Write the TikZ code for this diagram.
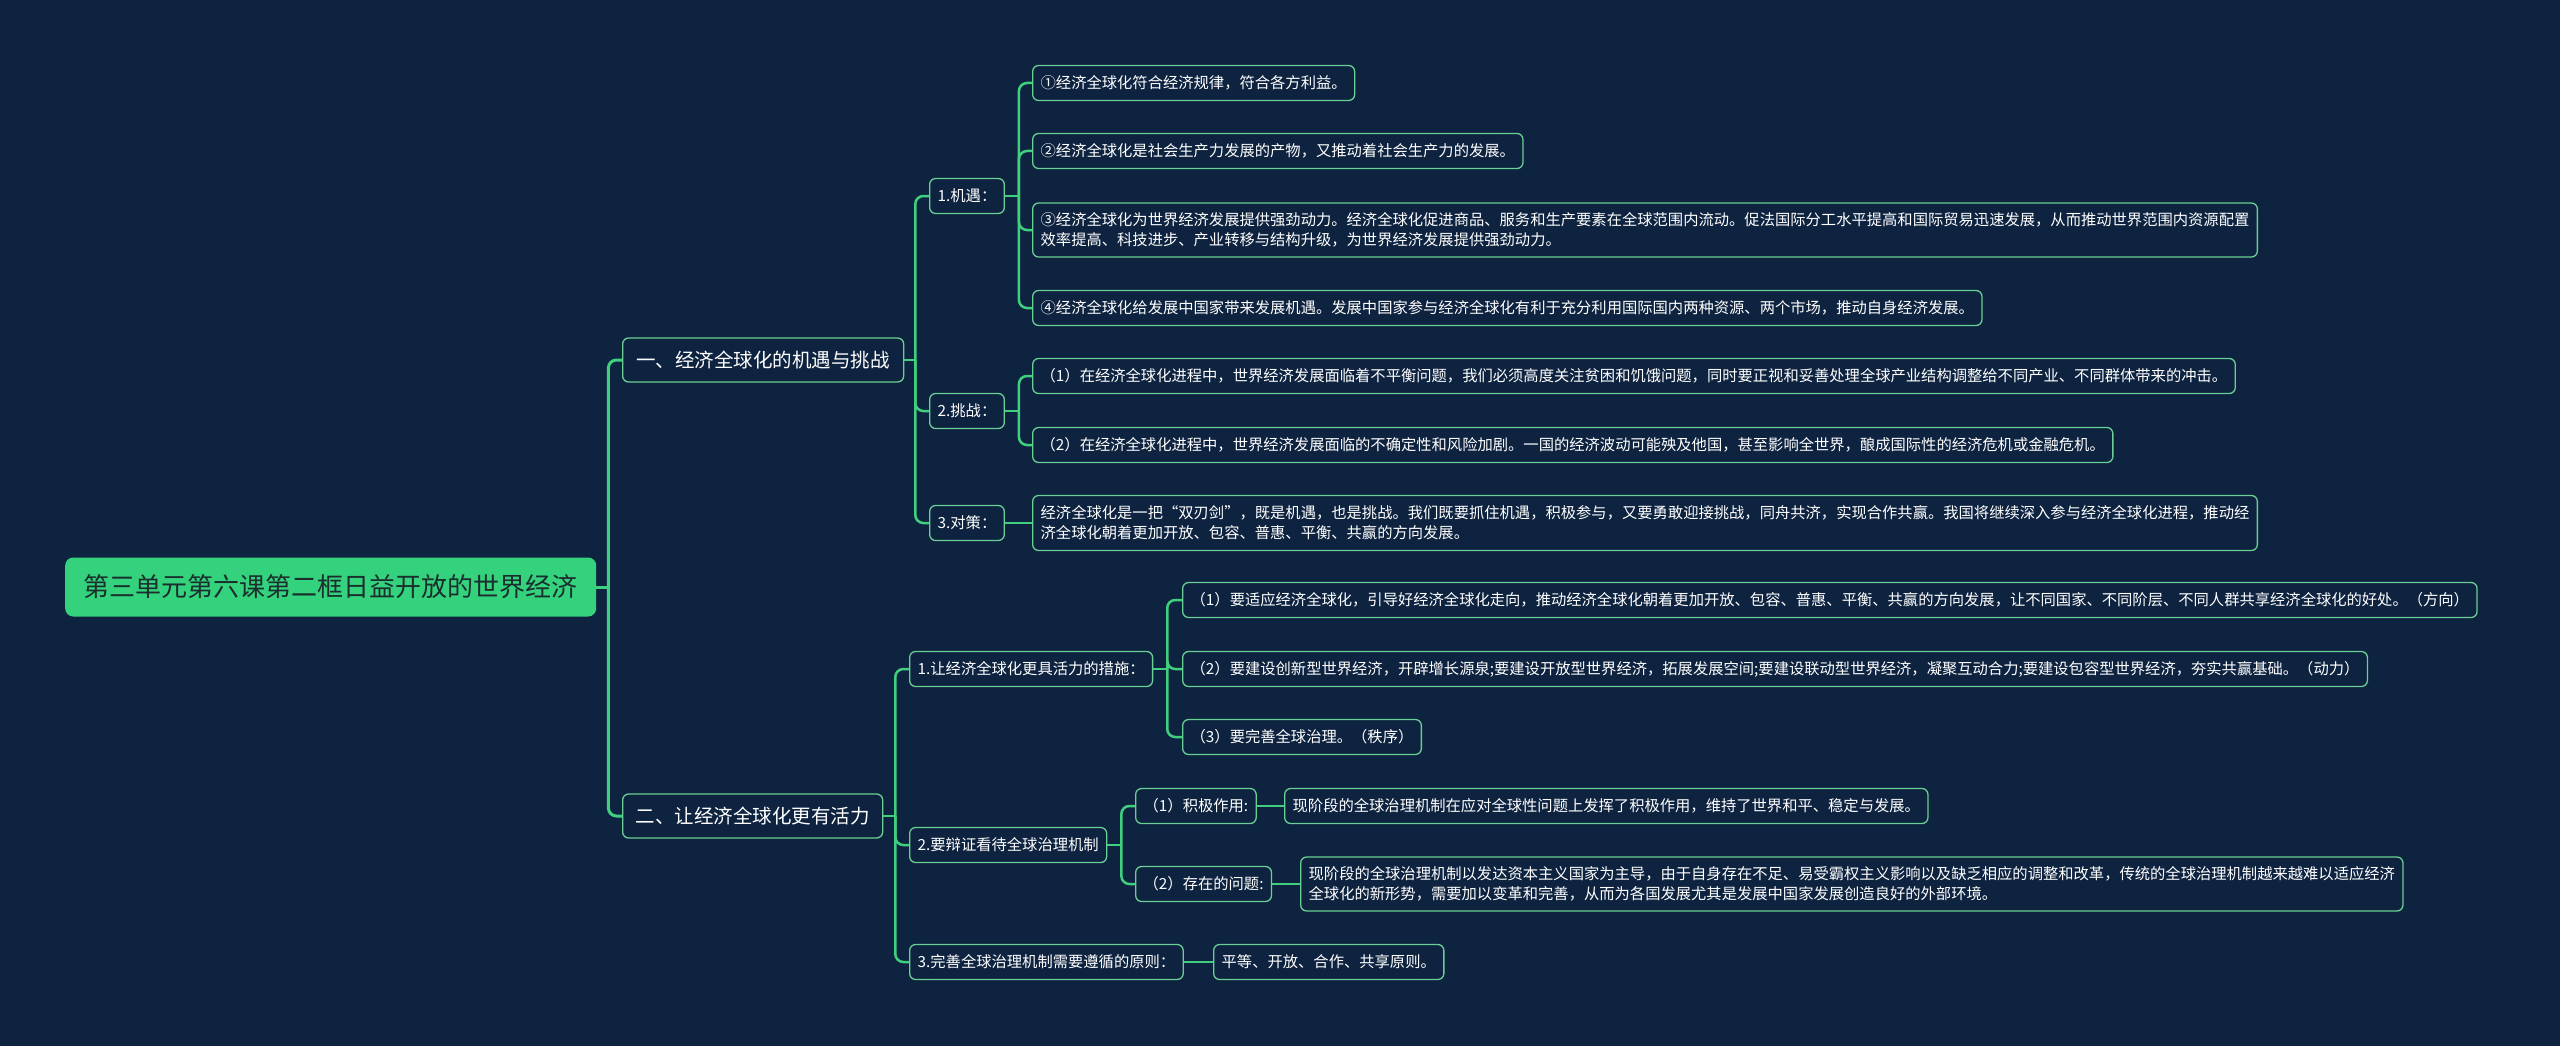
\documentclass[tikz,border=0pt]{standalone}
\usepackage{fontspec}
\setmainfont{Noto Sans CJK SC}
\definecolor{bg}{HTML}{0E2340}
\definecolor{lineg}{HTML}{3FCF7F}
\definecolor{bdg}{HTML}{6ACF94}
\definecolor{rootg}{HTML}{34D27C}
\definecolor{roottxt}{HTML}{1A2E2E}
\tikzset{
  box/.style={draw=bdg, line width=1.3pt, rounded corners=6pt, fill=bg, text=white,
    inner xsep=8pt, inner ysep=0pt, anchor=west, align=left,
    font=\fontsize{15.3pt}{20pt}\selectfont, minimum height=35pt},
  lvlone/.style={box, font=\fontsize{19.5pt}{24pt}\selectfont, minimum height=44pt, inner xsep=12pt},
  rootbox/.style={fill=rootg, draw=none, rounded corners=8pt, text=roottxt, anchor=west,
    font=\fontsize{26pt}{30pt}\selectfont, minimum height=59pt, inner xsep=14pt},
  conn/.style={draw=lineg, line width=2.5pt, rounded corners=8pt},
  connone/.style={conn, line width=3pt}
}
\begin{document}
\begin{tikzpicture}[x=1pt,y=-1pt]
\fill[bg] (0,0) rectangle (2560,1046);
\useasboundingbox (0,0) rectangle (2560,1046);

% root and level 1
\node[rootbox, minimum width=531pt] (root) at (65,587) {第三单元第六课第二框日益开放的世界经济};
\node[lvlone, minimum width=281pt] (La) at (622,360) {一、经济全球化的机遇与挑战};
\node[lvlone, minimum width=260pt] (Lb) at (622,816) {二、让经济全球化更有活力};

% level 2
\node[box] (a1) at (929,196) {1.机遇：};
\node[box] (a2) at (929,411) {2.挑战：};
\node[box] (a3) at (929,523) {3.对策：};
\node[box] (b1) at (909,669) {1.让经济全球化更具活力的措施：};
\node[box] (b2) at (909,845) {2.要辩证看待全球治理机制};
\node[box] (b3) at (909,962) {3.完善全球治理机制需要遵循的原则：};

% level 3
\node[box] (a1c1) at (1032,83) {①经济全球化符合经济规律，符合各方利益。};
\node[box] (a1c2) at (1032,151) {②经济全球化是社会生产力发展的产物，又推动着社会生产力的发展。};
\node[box, minimum height=54pt] (a1c3) at (1032,230) {③经济全球化为世界经济发展提供强劲动力。经济全球化促进商品、服务和生产要素在全球范围内流动。促法国际分工水平提高和国际贸易迅速发展，从而推动世界范围内资源配置\\效率提高、科技进步、产业转移与结构升级，为世界经济发展提供强劲动力。};
\node[box] (a1c4) at (1032,308) {④经济全球化给发展中国家带来发展机遇。发展中国家参与经济全球化有利于充分利用国际国内两种资源、两个市场，推动自身经济发展。};
\node[box] (a2c1) at (1032,376) {（1）在经济全球化进程中，世界经济发展面临着不平衡问题，我们必须高度关注贫困和饥饿问题，同时要正视和妥善处理全球产业结构调整给不同产业、不同群体带来的冲击。};
\node[box] (a2c2) at (1032,445) {（2）在经济全球化进程中，世界经济发展面临的不确定性和风险加剧。一国的经济波动可能殃及他国，甚至影响全世界，酿成国际性的经济危机或金融危机。};
\node[box, minimum height=55pt] (a3c1) at (1032,523) {经济全球化是一把“双刃剑”，既是机遇，也是挑战。我们既要抓住机遇，积极参与，又要勇敢迎接挑战，同舟共济，实现合作共赢。我国将继续深入参与经济全球化进程，推动经\\济全球化朝着更加开放、包容、普惠、平衡、共赢的方向发展。};
\node[box] (b1c1) at (1182,600) {（1）要适应经济全球化，引导好经济全球化走向，推动经济全球化朝着更加开放、包容、普惠、平衡、共赢的方向发展，让不同国家、不同阶层、不同人群共享经济全球化的好处。（方向）};
\node[box] (b1c2) at (1182,669) {（2）要建设创新型世界经济，开辟增长源泉;要建设开放型世界经济，拓展发展空间;要建设联动型世界经济，凝聚互动合力;要建设包容型世界经济，夯实共赢基础。（动力）};
\node[box] (b1c3) at (1182,737) {（3）要完善全球治理。（秩序）};
\node[box] (b2c1) at (1135,806) {（1）积极作用:};
\node[box] (b2c2) at (1135,884) {（2）存在的问题:};
\node[box] (b2c1x) at (1284,806) {现阶段的全球治理机制在应对全球性问题上发挥了积极作用，维持了世界和平、稳定与发展。};
\node[box, minimum height=54pt] (b2c2x) at (1300,884) {现阶段的全球治理机制以发达资本主义国家为主导，由于自身存在不足、易受霸权主义影响以及缺乏相应的调整和改革，传统的全球治理机制越来越难以适应经济\\全球化的新形势，需要加以变革和完善，从而为各国发展尤其是发展中国家发展创造良好的外部环境。};
\node[box] (b3x) at (1213,962) {平等、开放、合作、共享原则。};

% connectors: root
\draw[connone] (root.east) -- ++(12,0) coordinate (j0);
\draw[connone] (j0) |- (La.west);
\draw[connone] (j0) |- (Lb.west);
% La
\draw[conn] (La.east) -- ++(11,0) coordinate (ja);
\foreach \c in {a1,a2,a3} \draw[conn] (ja) |- (\c.west);
% Lb
\draw[conn] (Lb.east) -- ++(12,0) coordinate (jb);
\foreach \c in {b1,b2,b3} \draw[conn] (jb) |- (\c.west);
% a1
\draw[conn] (a1.east) -- ++(14,0) coordinate (ja1);
\foreach \c in {a1c1,a1c2,a1c3,a1c4} \draw[conn] (ja1) |- (\c.west);
% a2
\draw[conn] (a2.east) -- ++(14,0) coordinate (ja2);
\foreach \c in {a2c1,a2c2} \draw[conn] (ja2) |- (\c.west);
% a3
\draw[conn] (a3.east) -- (a3.east -| a3c1.west);
% b1
\draw[conn] (b1.east) -- ++(14,0) coordinate (jb1);
\foreach \c in {b1c1,b1c2,b1c3} \draw[conn] (jb1) |- (\c.west);
% b2
\draw[conn] (b2.east) -- ++(14,0) coordinate (jb2);
\foreach \c in {b2c1,b2c2} \draw[conn] (jb2) |- (\c.west);
\draw[conn] (b2c1.east) -- (b2c1.east -| b2c1x.west);
\draw[conn] (b2c2.east) -- (b2c2.east -| b2c2x.west);
% b3
\draw[conn] (b3.east) -- (b3.east -| b3x.west);
\end{tikzpicture}
\end{document}
